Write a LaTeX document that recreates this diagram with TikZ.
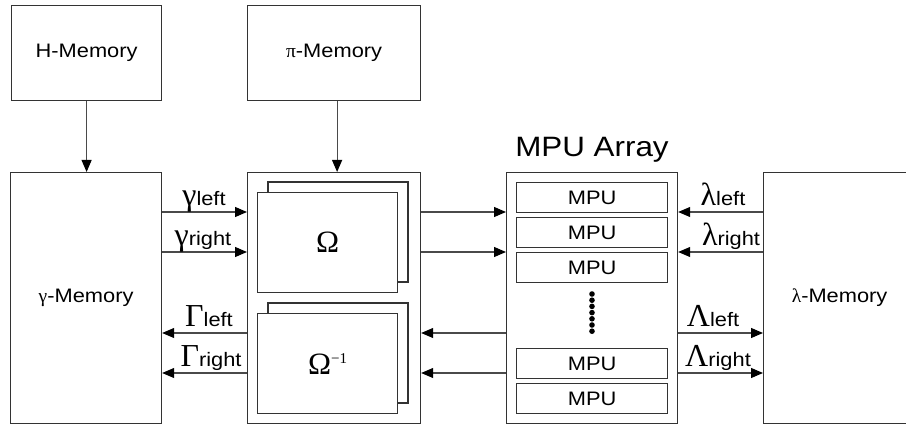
\documentclass[tikz,border=0pt]{standalone}
\usepackage{fontspec}
\setmainfont[FakeStretch=1.12]{Liberation Sans}
\newfontfamily\grk{Liberation Serif}
\usetikzlibrary{arrows.meta}
\definecolor{boxgray}{HTML}{333333}
\definecolor{linegray}{HTML}{4A4A4A}
\newcommand\grkbig[1]{{\fontsize{32}{32}\selectfont\grk #1}}
\tikzset{
  box/.style={draw=boxgray, line width=1.2pt, fill=white, rectangle, inner sep=0pt, anchor=north west,
              font=\fontsize{19.5}{22}\selectfont},
  sheet/.style={draw=boxgray, line width=1.1pt, fill=white},
  mpubox/.style={box, minimum width=151pt, minimum height=30pt},
  conn/.style={draw=linegray, line width=1.1pt, -{Triangle[length=12pt,width=10pt,color=black]}},
  lbl/.style={anchor=base, inner sep=0pt, font=\fontsize{19.5}{22}\selectfont},
}
\begin{document}
\begin{tikzpicture}[x=1pt, y=-1pt]
\useasboundingbox (0,0) rectangle (906,425);
\fill[white] (0,0) rectangle (906,425);
\begin{scope}
\clip (0,0) rectangle (906,425);

% memories
\node[box, minimum width=150pt, minimum height=95pt] (hmem) at (11,5) {H-Memory};
\node[box, minimum width=173pt, minimum height=95pt] (pimem) at (247,5) {{\grk π}-Memory};
\node[box, minimum width=151pt, minimum height=251pt] (gmem) at (10,172) {{\grk γ}-Memory};
\node[box, minimum width=152pt, minimum height=251pt] (lmem) at (763,172) {{\grk λ}-Memory};

% permutation block
\node[box, minimum width=173pt, minimum height=251pt] (omega) at (247,172) {};
\draw[sheet] (268,182) rectangle (408,282);
\node[box, line width=1.1pt, minimum width=140pt, minimum height=100pt] (omf) at (257,192) {{\fontsize{31}{31}\selectfont\grk Ω}};
\draw[sheet] (268,303) rectangle (408,403);
\node[box, line width=1.1pt, minimum width=140pt, minimum height=100pt] (omi) at (257,313)
  {{\fontsize{31}{31}\selectfont\grk Ω}\raisebox{11pt}{\fontsize{15}{15}\selectfont\grk −1}};

% MPU array
\node[box, minimum width=171pt, minimum height=251pt] (mpuarr) at (506,172) {};
\node[anchor=base, inner sep=0pt, font=\fontsize{28}{30}\selectfont] (mpulbl) at (592,157) {MPU Array};
\node[mpubox] (mpu1) at (516,182) {MPU};
\node[mpubox] (mpu2) at (516,217) {MPU};
\node[mpubox] (mpu3) at (516,252) {MPU};
\node[mpubox] (mpu4) at (516,348) {MPU};
\node[mpubox] (mpu5) at (516,383) {MPU};
\foreach \i in {0,...,6} \fill (592,294+6.2*\i) circle (2.8pt);

% vertical feeds
\draw[conn] (hmem.south) -- (hmem.south |- gmem.north);
\draw[conn] ([xshift=3pt]pimem.south) -- ([xshift=3pt]omega.north);

% gamma side
\draw[conn] (gmem.east |- 0,212) -- (omega.west |- 0,212);
\draw[conn] (gmem.east |- 0,252) -- (omega.west |- 0,252);
\draw[conn] (omega.west |- 0,333) -- (gmem.east |- 0,333);
\draw[conn] (omega.west |- 0,373) -- (gmem.east |- 0,373);
\node[lbl] (glab) at (204,206) {\grkbig{γ}left};
\node[lbl] (grlab) at (203,246) {\grkbig{γ}right};
\node[lbl] (Glab) at (209,326) {\grkbig{Γ}left};
\node[lbl] (Grlab) at (211,366) {\grkbig{Γ}right};

% between permutation and MPU array
\draw[conn] (omega.east |- 0,212) -- (mpuarr.west |- 0,212);
\draw[conn] (omega.east |- 0,252) -- (mpuarr.west |- 0,252);
\draw[conn] (mpuarr.west |- 0,333) -- (omega.east |- 0,333);
\draw[conn] (mpuarr.west |- 0,373) -- (omega.east |- 0,373);

% lambda side
\draw[conn] (lmem.west |- 0,212) -- (mpuarr.east |- 0,212);
\draw[conn] (lmem.west |- 0,252) -- (mpuarr.east |- 0,252);
\draw[conn] (mpuarr.east |- 0,333) -- (lmem.west |- 0,333);
\draw[conn] (mpuarr.east |- 0,373) -- (lmem.west |- 0,373);
\node[lbl] (llab) at (723,206) {\grkbig{λ}left};
\node[lbl] (lrlab) at (731,246) {\grkbig{λ}right};
\node[lbl] (Llab) at (713,326) {\grkbig{Λ}left};
\node[lbl] (Lrlab) at (718,366) {\grkbig{Λ}right};
\end{scope}
\end{tikzpicture}
\end{document}
